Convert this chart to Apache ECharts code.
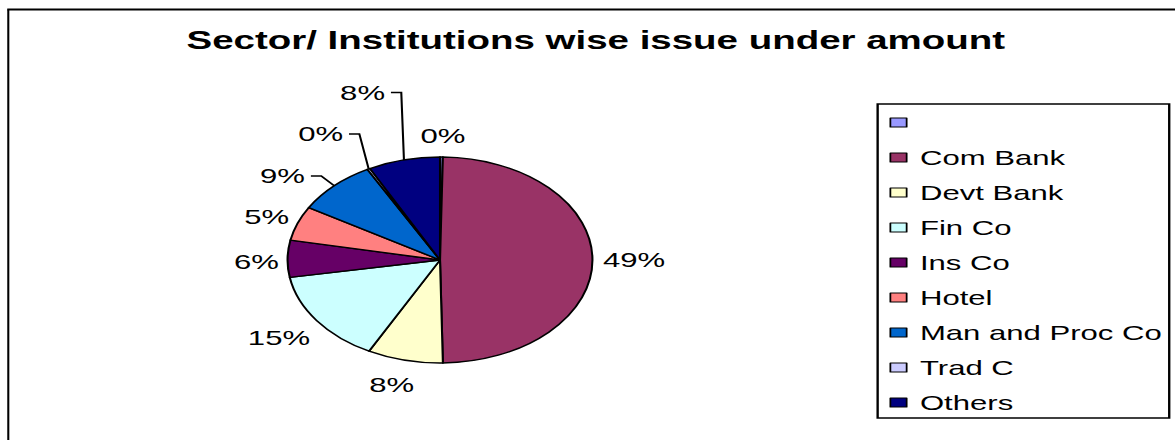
<!DOCTYPE html>
<html>
<head>
<meta charset="utf-8">
<script src="https://cdn.jsdelivr.net/npm/echarts@6/dist/echarts.min.js"></script>
<style>
  html, body { margin: 0; padding: 0; background: #fff; overflow: hidden; }
  /* the chart is laid out narrow and widened horizontally, giving the flattened pie and wide lettering */
  #chart { width: 794px; height: 440px; transform: scaleX(1.48); transform-origin: 0 0; }
</style>
</head>
<body>
<div id="chart"></div>
<script>
// Sector / institution shares of the issue amount (percent)
const categories = [' ', 'Com Bank', 'Devt Bank', 'Fin Co', 'Ins Co', 'Hotel', 'Man and Proc Co', 'Trad C', 'Others'];
const shares = [0.3, 49.4, 8.0, 14.6, 5.8, 5.4, 8.6, 0.3, 7.6];
const sliceColors = ['#9999FF', '#993366', '#FFFFCC', '#CCFFFF', '#660066', '#FF8080', '#0066CC', '#CCCCFF', '#000080'];
const titleText = 'Sector/ Institutions wise issue under amount';

const FONT = '"Liberation Sans", Arial, sans-serif';
const CX = 297.3, CY = 260, R = 103;

// Label placement relative to the rim point at each slice's mid angle.
// Plain labels: offset of the label centre. Leader labels: offset of the label's right end.
const labelPlacement = [
  { dx: 1, dy: -21 },
  { dx: 28.1, dy: -0.5 },
  { dx: -8.9, dy: 24.8 },
  { dx: -25.5, dy: 17.5 },
  { dx: -21, dy: 3.3 },
  { dx: -20.9, dy: -6.3 },
  { dx: -19.8, dy: -9.8, leader: true },
  { dx: -17.3, dy: -35, leader: true },
  { dx: -12.8, dy: -67.4, leader: true }
];

const total = shares.reduce((a, b) => a + b, 0);
function rimPoint(i) {
  let before = 0;
  for (let k = 0; k < i; k++) before += shares[k];
  const mid = (before + shares[i] / 2) / total * Math.PI * 2; // clockwise from 12 o'clock
  return [CX + R * Math.sin(mid), CY - R * Math.cos(mid)];
}

const pieData = categories.map((name, i) => ({
  name: name,
  value: shares[i],
  itemStyle: { color: sliceColors[i] },
  labelLine: { show: !!labelPlacement[i].leader }
}));

const chart = echarts.init(document.getElementById('chart'), null, { renderer: 'svg' });
chart.setOption({
  animation: false,
  backgroundColor: '#fff',
  title: {
    text: titleText,
    left: 126,
    top: 27,
    padding: 0,
    textStyle: { fontFamily: FONT, fontWeight: 'bold', fontSize: 26, color: '#000' }
  },
  legend: {
    orient: 'vertical',
    left: 593,
    top: 104,
    icon: 'rect',
    itemWidth: 11,
    itemHeight: 9,
    itemGap: 14,
    padding: [8, 5, 5, 8],
    borderColor: '#000',
    borderWidth: 1.6,
    selectedMode: false,
    itemStyle: { borderColor: '#000', borderWidth: 1.2 },
    textStyle: { fontFamily: FONT, fontSize: 21, lineHeight: 21, color: '#000', padding: [0, 0, 0, 4] }
  },
  graphic: [
    { type: 'line', silent: true, shape: { x1: 5.6, y1: 9.5, x2: 5.6, y2: 450 }, style: { stroke: '#000', lineWidth: 1.4 } },
    { type: 'line', silent: true, shape: { x1: 4.9, y1: 9.5, x2: 800, y2: 9.5 }, style: { stroke: '#000', lineWidth: 2 } }
  ],
  series: [{
    type: 'pie',
    center: [CX, CY],
    radius: R,
    startAngle: 90,
    clockwise: true,
    avoidLabelOverlap: false,
    data: pieData,
    itemStyle: { borderColor: '#000', borderWidth: 1.4 },
    emphasis: { disabled: true },
    label: {
      show: true,
      position: 'outside',
      fontFamily: FONT,
      fontSize: 21,
      color: '#000',
      formatter: p => Math.round(p.percent) + '%'
    },
    labelLine: { lineStyle: { color: '#000', width: 1.4 } },
    labelLayout: function (params) {
      const i = params.dataIndex;
      const p = labelPlacement[i];
      const rim = rimPoint(i);
      const x = rim[0] + p.dx, y = rim[1] + p.dy;
      if (p.leader) {
        return {
          x: x, y: y, align: 'right', verticalAlign: 'middle',
          labelLinePoints: [[rim[0], rim[1]], [x + 11, y], [x + 4, y]]
        };
      }
      return { x: x, y: y, align: 'center', verticalAlign: 'middle' };
    }
  }]
});
</script>
</body>
</html>
